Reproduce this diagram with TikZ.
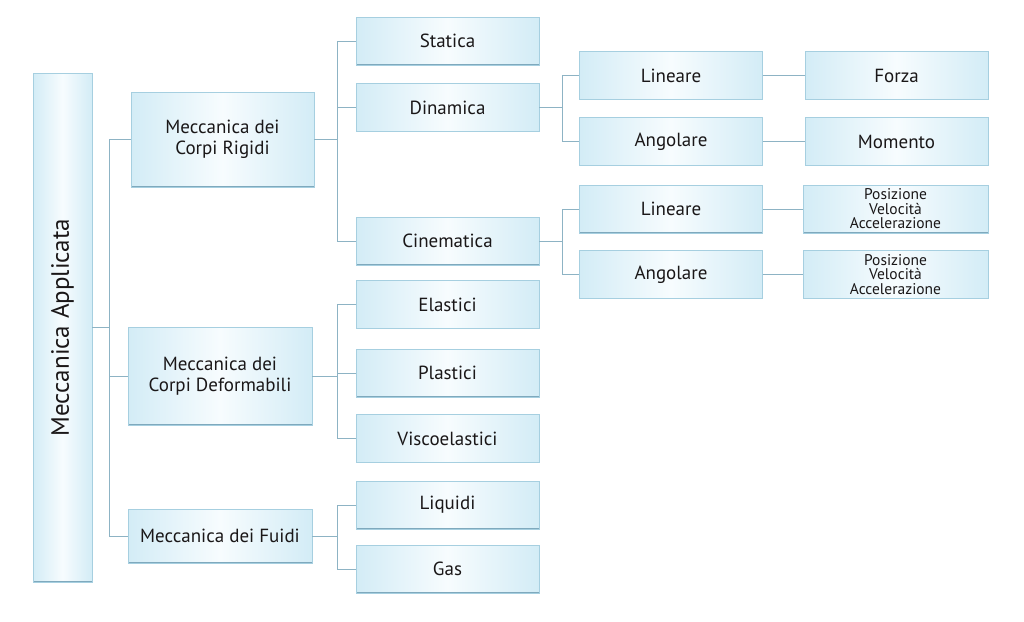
\documentclass[tikz,border=0pt]{standalone}
\usepackage{fontspec}
\setmainfont{PT Sans}
\definecolor{boxside}{HTML}{D3ECF6}
\definecolor{boxmid}{HTML}{F7FCFE}
\definecolor{boxline}{HTML}{A6CFE0}
\definecolor{boxbot}{HTML}{7FA9BD}
\definecolor{connc}{HTML}{8DB3C4}
\definecolor{txt}{HTML}{1A1718}
\tikzset{
  box/.style={draw=boxline, line width=0.8pt, left color=boxside, right color=boxside, middle color=boxmid,
    align=center, text=txt, font=\fontsize{19}{21}\selectfont, inner sep=2pt,
    path picture={\draw[boxbot,line width=2pt] (path picture bounding box.south west) -- (path picture bounding box.south east);}},
  wbox/.style={box, minimum width=183pt, minimum height=48pt},
  small/.style={font=\fontsize{15.5}{14.5}\selectfont},
  conn/.style={draw=connc, line width=0.9pt}
}
\begin{document}
\begin{tikzpicture}[x=1pt,y=-1pt]
\useasboundingbox (0,0) rectangle (1024,621);
% root
\node[box, minimum width=59pt, minimum height=509pt] (root) at (62.5,327.5) {};
\node[rotate=90, text=txt, font=\fontsize{25}{27}\selectfont] (rootlabel) at (root.center) {Meccanica Applicata};
% level 1
\node[box, minimum width=183pt, minimum height=95pt] (rig) at (222.5,139.5) {Meccanica dei\\Corpi Rigidi};
\node[box, minimum width=184pt, minimum height=98pt] (def) at (220,376) {Meccanica dei\\Corpi Deformabili};
\node[box, minimum width=184pt, minimum height=54pt] (flu) at (220,536) {Meccanica dei Fuidi};
% level 2
\node[wbox] (sta) at (447.5,41) {Statica};
\node[wbox] (din) at (447.5,107.5) {Dinamica};
\node[wbox] (cin) at (447.5,241) {Cinematica};
\node[wbox] (ela) at (447.5,304.5) {Elastici};
\node[wbox] (pla) at (447.5,373) {Plastici};
\node[wbox] (vis) at (447.5,438.5) {Viscoelastici};
\node[wbox] (liq) at (447.5,505) {Liquidi};
\node[wbox] (gas) at (447.5,569) {Gas};
% level 3
\node[wbox] (dlin) at (671,75.5) {Lineare};
\node[wbox] (dang) at (671,141.5) {Angolare};
\node[wbox] (clin) at (671,209) {Lineare};
\node[wbox] (cang) at (671,274.5) {Angolare};
% level 4
\node[wbox] (for) at (896.5,75.5) {Forza};
\node[wbox] (mom) at (896.5,141.5) {Momento};
\node[wbox, minimum width=185pt, small] (pva1) at (895.5,209) {Posizione\\Velocità\\Accelerazione};
\node[wbox, minimum width=185pt, small] (pva2) at (895.5,274.5) {Posizione\\Velocità\\Accelerazione};
% connectors root
\coordinate (j0) at ([xshift=17pt]root.east);
\draw[conn] (root.east) -- (j0);
\draw[conn] (j0 |- rig.west) -- (j0 |- flu.west);
\draw[conn] (j0 |- rig.west) -- (rig.west);
\draw[conn] (j0 |- def.west) -- (def.west);
\draw[conn] (j0 |- flu.west) -- (flu.west);
% rigidi
\coordinate (j1) at (337,139.5);
\draw[conn] (rig.east) -- (j1);
\draw[conn] (j1 |- sta.west) -- (j1 |- cin.west);
\draw[conn] (j1 |- sta.west) -- (sta.west);
\draw[conn] (j1 |- din.west) -- (din.west);
\draw[conn] (j1 |- cin.west) -- (cin.west);
% deformabili
\coordinate (j2) at (337,376);
\draw[conn] (def.east) -- (j2);
\draw[conn] (j2 |- ela.west) -- (j2 |- vis.west);
\draw[conn] (j2 |- ela.west) -- (ela.west);
\draw[conn] (j2 |- pla.west) -- (pla.west);
\draw[conn] (j2 |- vis.west) -- (vis.west);
% fluidi
\coordinate (j3) at (337,536);
\draw[conn] (flu.east) -- (j3);
\draw[conn] (j3 |- liq.west) -- (j3 |- gas.west);
\draw[conn] (j3 |- liq.west) -- (liq.west);
\draw[conn] (j3 |- gas.west) -- (gas.west);
% dinamica
\coordinate (j4) at (562,107.5);
\draw[conn] (din.east) -- (j4);
\draw[conn] (j4 |- dlin.west) -- (j4 |- dang.west);
\draw[conn] (j4 |- dlin.west) -- (dlin.west);
\draw[conn] (j4 |- dang.west) -- (dang.west);
% cinematica
\coordinate (j5) at (562,241);
\draw[conn] (cin.east) -- (j5);
\draw[conn] (j5 |- clin.west) -- (j5 |- cang.west);
\draw[conn] (j5 |- clin.west) -- (clin.west);
\draw[conn] (j5 |- cang.west) -- (cang.west);
% level 4 links
\draw[conn] (dlin.east) -- (for.west);
\draw[conn] (dang.east) -- (mom.west);
\draw[conn] (clin.east) -- (pva1.west);
\draw[conn] (cang.east) -- (pva2.west);
\end{tikzpicture}
\end{document}
